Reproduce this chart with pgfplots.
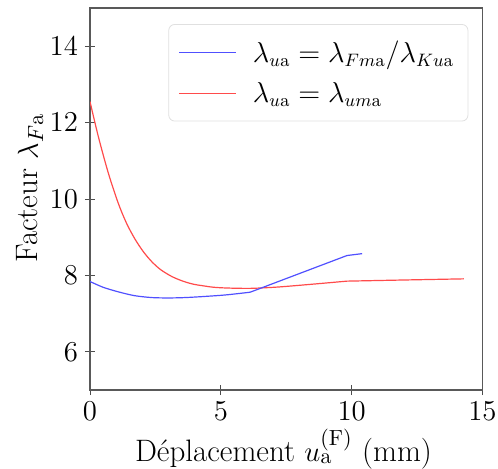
\documentclass[border=0pt]{standalone}
\usepackage{pgfplots}
\pgfplotsset{compat=1.18}
\definecolor{cblue}{RGB}{80,80,255}
\definecolor{cred}{RGB}{255,75,75}
\begin{document}
\begin{tikzpicture}
\begin{axis}[
  scale only axis,
  width=196.25pt, height=191pt,
  xmin=0, xmax=15, ymin=5, ymax=15,
  xtick={0,5,10,15}, ytick={6,8,10,12,14},
  tick align=center,
  major tick length=5pt,
  xtick pos=bottom, ytick pos=left,
  axis line style={black!65, line width=0.6pt},
  every tick/.style={black!70, line width=0.5pt},
  ticklabel style={font=\fontsize{15.5}{18}\selectfont},
  xlabel={D\'eplacement $u_{\mathrm{a}}^{(\mathrm{F})}$ (mm)},
  ylabel={Facteur $\lambda_{F\mathrm{a}}$},
  label style={font=\fontsize{15.5}{18}\selectfont},
  xlabel style={at={(rel axis cs:0.493,0)}, anchor=base, yshift=-35.5pt},
  ylabel style={at={(rel axis cs:-0.153,0.529)}, anchor=center},
  legend style={at={(rel axis cs:0.964,0.958)}, anchor=north east,
    draw=black!12, rounded corners=3pt, fill=white,
    font=\fontsize{13.3}{15}\selectfont,
    row sep=4.5pt, inner xsep=5pt, inner ysep=6pt},
  legend cell align=left,
]
\addplot[cred, line width=0.6pt, smooth, forget plot] coordinates {
(0,12.55) (0.32,11.63) (0.70,10.68) (1.08,9.89)
(1.40,9.36) (1.72,8.95) (2.04,8.62) (2.36,8.36) (2.70,8.15) (3.13,7.97) (3.55,7.85)
(3.95,7.77) (4.40,7.72) (4.72,7.69) (5.23,7.67) (6.0,7.66) (6.5,7.67) (7.27,7.70)
(8.5,7.77) (9.82,7.85)};
\addplot[cred, line width=0.6pt, forget plot] coordinates {
(9.82,7.85) (12,7.88) (14.29,7.91)};
\addplot[cblue, line width=0.6pt, smooth, forget plot] coordinates {
(0,7.84) (0.5,7.69) (1.08,7.57) (1.7,7.47) (2.36,7.42) (3.0,7.41) (3.64,7.42)
(4.4,7.45) (5.2,7.49) (6.12,7.56)};
\addplot[cblue, line width=0.6pt, forget plot] coordinates {
(6.12,7.56) (9.82,8.52) (10.4,8.57)};
\addlegendimage{legend image code/.code={\draw[color=cblue, line width=0.6pt] (0pt,0pt) -- (28.5pt,0pt);}}
\addlegendentry{\hspace*{6pt}$\lambda_{u\mathrm{a}} = \lambda_{Fm\mathrm{a}}/\lambda_{Ku\mathrm{a}}$}
\addlegendimage{legend image code/.code={\draw[color=cred, line width=0.6pt] (0pt,0pt) -- (28.5pt,0pt);}}
\addlegendentry{\hspace*{6pt}$\lambda_{u\mathrm{a}} = \lambda_{um\mathrm{a}}$}
\coordinate (O) at (rel axis cs:0,0);
\end{axis}
\pgfresetboundingbox
\path (O) ++(-45pt,-39pt) rectangle ++(249pt,234pt);
\end{tikzpicture}
\end{document}
